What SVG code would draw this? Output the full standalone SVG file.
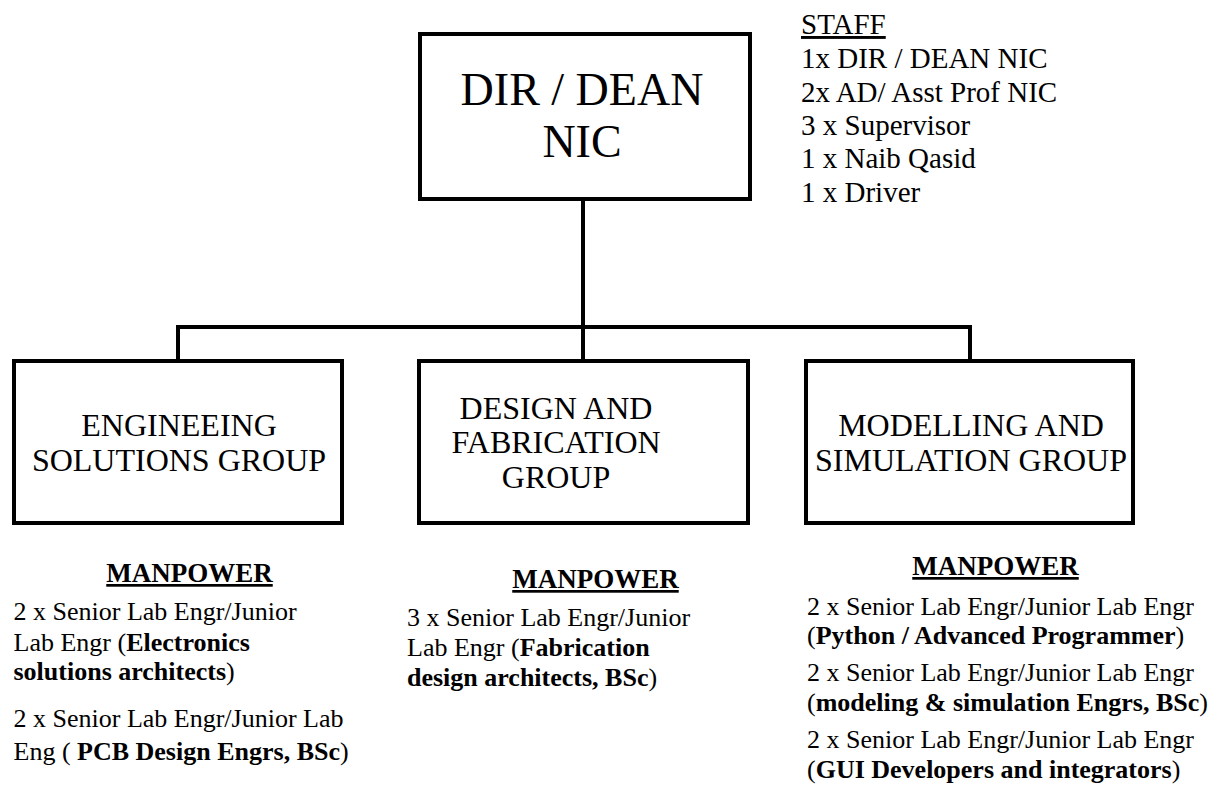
<svg xmlns="http://www.w3.org/2000/svg" width="1211" height="807" viewBox="0 0 1211 807" font-family="Liberation Serif">
<style>
  .box { fill: #ffffff; stroke: #000000; stroke-width: 4; }
  .conn { fill: none; stroke: #000000; stroke-width: 4; stroke-linecap: square; }
  text { font-family: "Liberation Serif", "Times New Roman", serif; fill: #000000; }
  .title { font-size: 46px; text-anchor: middle; }
  .grp { font-size: 32px; text-anchor: middle; }
  .staff { font-size: 29px; }
  .head { font-size: 27px; font-weight: bold; text-anchor: middle; text-decoration: underline; }
  .body { font-size: 26px; }
  .b { font-weight: bold; }
  .u { text-decoration: underline; }
</style>
<rect width="1211" height="807" fill="#ffffff"/>
<g id="connectors">
  <path class="conn" d="M583 199 V327"/>
  <path class="conn" d="M178 327 H970"/>
  <path class="conn" d="M178 327 V361"/>
  <path class="conn" d="M583 327 V361"/>
  <path class="conn" d="M970 327 V361"/>
</g>
<g id="node-dir">
  <rect class="box" x="420" y="34" width="330" height="165"/>
  <text class="title" x="582" y="105">DIR / DEAN</text>
  <text class="title" x="582" y="157">NIC</text>
</g>
<g id="staff-list">
  <text class="staff u" x="801" y="34">STAFF</text>
  <text class="staff" x="801" y="68">1x DIR / DEAN NIC</text>
  <text class="staff" x="801" y="102">2x AD/ Asst Prof NIC</text>
  <text class="staff" x="801" y="135">3 x Supervisor</text>
  <text class="staff" x="801" y="168">1 x Naib Qasid</text>
  <text class="staff" x="801" y="202">1 x Driver</text>
</g>
<g id="node-esg">
  <rect class="box" x="14" y="361" width="328" height="162"/>
  <text class="grp" x="179" y="436">ENGINEEING</text>
  <text class="grp" x="179" y="471">SOLUTIONS GROUP</text>
</g>
<g id="node-dfg">
  <rect class="box" x="419" y="361" width="329" height="162"/>
  <text class="grp" x="556" y="419">DESIGN AND</text>
  <text class="grp" x="556" y="453">FABRICATION</text>
  <text class="grp" x="556" y="488">GROUP</text>
</g>
<g id="node-msg">
  <rect class="box" x="806" y="361" width="327" height="162"/>
  <text class="grp" x="971" y="436">MODELLING AND</text>
  <text class="grp" x="971" y="471">SIMULATION GROUP</text>
</g>
<g id="manpower-esg">
  <text class="head" x="189.5" y="582">MANPOWER</text>
  <text class="body" x="13.5" y="620">2 x Senior Lab Engr/Junior</text>
  <text class="body" x="13.5" y="651">Lab Engr (<tspan class="b">Electronics</tspan></text>
  <text class="body" x="13.5" y="680"><tspan class="b">solutions architects</tspan>)</text>
  <text class="body" x="13.5" y="727">2 x Senior Lab Engr/Junior Lab</text>
  <text class="body" x="13.5" y="760">Eng ( <tspan class="b">PCB Design Engrs, BSc</tspan>)</text>
</g>
<g id="manpower-dfg">
  <text class="head" x="595.5" y="588">MANPOWER</text>
  <text class="body" x="407" y="626">3 x Senior Lab Engr/Junior</text>
  <text class="body" x="407" y="656">Lab Engr (<tspan class="b">Fabrication</tspan></text>
  <text class="body" x="407" y="686"><tspan class="b">design architects, BSc</tspan>)</text>
</g>
<g id="manpower-msg">
  <text class="head" x="995.5" y="575">MANPOWER</text>
  <text class="body" x="807" y="615">2 x Senior Lab Engr/Junior Lab Engr</text>
  <text class="body" x="807" y="644">(<tspan class="b">Python / Advanced Programmer</tspan>)</text>
  <text class="body" x="807" y="681">2 x Senior Lab Engr/Junior Lab Engr</text>
  <text class="body" x="807" y="711">(<tspan class="b">modeling &amp; simulation Engrs, BSc</tspan>)</text>
  <text class="body" x="807" y="748">2 x Senior Lab Engr/Junior Lab Engr</text>
  <text class="body" x="807" y="778">(<tspan class="b">GUI Developers and integrators</tspan>)</text>
</g>
</svg>
